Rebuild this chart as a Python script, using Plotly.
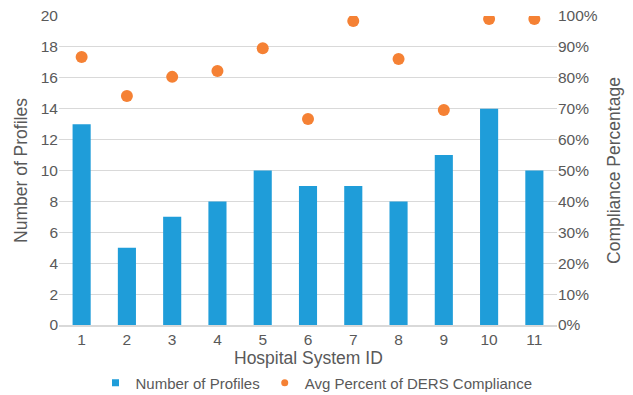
import plotly.graph_objects as go

hospital_ids = ["1", "2", "3", "4", "5", "6", "7", "8", "9", "10", "11"]
num_profiles = [13, 5, 7, 8, 10, 9, 9, 8, 11, 14, 10]
compliance_pct = [0.867, 0.741, 0.803, 0.822, 0.896, 0.667, 0.984, 0.861, 0.696, 0.99, 0.99]

left_ticks = [0, 2, 4, 6, 8, 10, 12, 14, 16, 18, 20]
right_ticks = [0, 0.1, 0.2, 0.3, 0.4, 0.5, 0.6, 0.7, 0.8, 0.9, 1.0]
x_title = "Hospital System ID"

font_family = "Liberation Sans, Arial, Helvetica, sans-serif"
txt = "#595959"
blue = "#1F9DD9"
orange = "#F58134"

fig = go.Figure()
fig.add_trace(go.Bar(
    x=hospital_ids, y=num_profiles, name="Number of Profiles",
    marker=dict(color=blue, line=dict(width=0)), showlegend=False,
))
fig.add_trace(go.Scatter(
    x=hospital_ids, y=compliance_pct, name="Avg Percent of DERS Compliance",
    mode="markers", yaxis="y2", showlegend=False,
    marker=dict(color=orange, size=12),
))
# legend-only entries with small symbols
fig.add_trace(go.Scatter(
    x=[None], y=[None], name="Number of Profiles", mode="markers",
    marker=dict(color=blue, size=7, symbol="square"),
))
fig.add_trace(go.Scatter(
    x=[None], y=[None], name="Avg Percent of DERS Compliance", mode="markers",
    marker=dict(color=orange, size=7, symbol="circle"),
))

fig.update_layout(
    width=633, height=395,
    margin=dict(l=59, r=76, t=16, b=70, autoexpand=False),
    paper_bgcolor="white", plot_bgcolor="white",
    font=dict(family=font_family, color=txt, size=15.5),
    bargap=0.6,
    showlegend=True,
    legend=dict(orientation="h", x=0.5, xanchor="center", xref="container",
                y=12 / 395, yanchor="middle", yref="container",
                font=dict(size=15, color=txt), itemwidth=30, traceorder="normal",
                tracegroupgap=0),
    xaxis=dict(
        type="category", categoryorder="array", categoryarray=hospital_ids,
        range=[-0.5, len(hospital_ids) - 0.5],
        showline=True, linecolor="#d9d9d9", linewidth=1.5,
        ticks="", tickfont=dict(size=15.5, color=txt), showgrid=False,
        automargin=False,
    ),
    yaxis=dict(
        range=[0, 20], tickvals=left_ticks,
        title=dict(text="Number of Profiles", font=dict(size=17.5, color=txt), standoff=8),
        gridcolor="#d9d9d9", gridwidth=1, zeroline=False,
        ticks="", tickfont=dict(size=15.5, color=txt), automargin=False,
    ),
    yaxis2=dict(
        range=[0, 1], tickvals=right_ticks, tickformat=".0%",
        overlaying="y", side="right",
        title=dict(text="Compliance Percentage", font=dict(size=17.5, color=txt), standoff=10),
        showgrid=False, zeroline=False,
        ticks="", tickfont=dict(size=15.5, color=txt), automargin=False,
    ),
    annotations=[dict(
        text=x_title, xref="paper", yref="paper", x=0.5, y=0,
        xanchor="center", yanchor="middle", yshift=-33, showarrow=False,
        font=dict(size=17.5, color=txt),
    )],
)

fig.write_html("out.html", config={"displayModeBar": False},
               post_script="document.body.style.margin='0';")
